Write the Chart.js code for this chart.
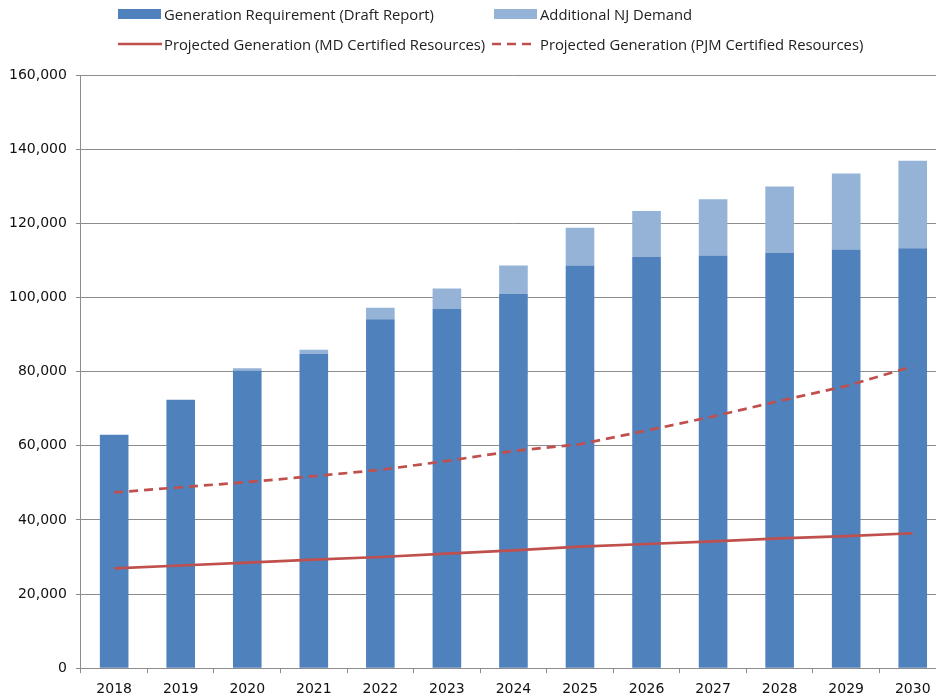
<!DOCTYPE html>
<html>
<head>
<meta charset="utf-8">
<script src="https://cdn.jsdelivr.net/npm/chart.js@4.4.1/dist/chart.umd.min.js"></script>
<style>
  html, body { margin: 0; padding: 0; background: #fff; overflow: hidden; width: 936px; height: 698px; }
  #wrap { position: relative; width: 952px; height: 698px; overflow: hidden; }
  #chart { position: absolute; left: 0; top: 0; }
  #legend { position: absolute; left: 0; top: 0; width: 936px; height: 60px;
    font-family: "Open Sans", sans-serif; font-size: 14.8px; color: #222; }
  .item { position: absolute; display: flex; align-items: center; white-space: nowrap; height: 20px; }
  .swatch { width: 43px; height: 10px; margin-right: 3px; }
</style>
</head>
<body>
<div id="wrap">
  <canvas id="chart" width="952" height="706"></canvas>
  <div id="legend"></div>
</div>
<script>
const years = ["2018", "2019", "2020", "2021", "2022", "2023", "2024", "2025", "2026", "2027", "2028", "2029", "2030"];
const generationRequirement = [63000, 72400, 80300, 84800, 94100, 96900, 100900, 108600, 110900, 111300, 112000, 112900, 113300];
const additionalNJ = [0, 0, 600, 1100, 3100, 5500, 7700, 10200, 12400, 15200, 17900, 20500, 23600];
const mdCertified = [26900, 27700, 28500, 29300, 30000, 30900, 31800, 32800, 33500, 34200, 35000, 35600, 36400];
const pjmCertified = [47400, 48800, 50200, 51800, 53500, 55900, 58600, 60400, 64100, 67900, 72100, 76100, 81400];
const yTicks = [0, 20000, 40000, 60000, 80000, 100000, 120000, 140000, 160000];

const DARK_BLUE = "#4F81BD";
const LIGHT_BLUE = "#95B3D7";
const RED = "#C0504D";
const GRID = "#8c8c8c";

const tickFont = { family: "DejaVu Sans", size: 14 };

const chartId = "chart";
const ctx = document.getElementById(chartId).getContext("2d");

const chart = new Chart(ctx, {
  type: "bar",
  data: {
    labels: years,
    datasets: [
      {
        label: "Generation Requirement (Draft Report)",
        data: generationRequirement,
        backgroundColor: DARK_BLUE,
        stack: "bars",
        order: 1,
      },
      {
        label: "Additional NJ Demand",
        data: additionalNJ,
        backgroundColor: LIGHT_BLUE,
        stack: "bars",
        order: 1,
      },
      {
        type: "line",
        label: "Projected Generation (MD Certified Resources)",
        data: mdCertified,
        borderColor: RED,
        borderWidth: 2.7,
        pointRadius: 0,
        tension: 0,
        stack: "md",
        order: 0,
      },
      {
        type: "line",
        label: "Projected Generation (PJM Certified Resources)",
        data: pjmCertified,
        borderColor: RED,
        borderWidth: 2.7,
        borderDash: [9, 6],
        pointRadius: 0,
        tension: 0,
        stack: "pjm",
        order: 0,
      },
    ],
  },
  options: {
    responsive: false,
    animation: false,
    barPercentage: 0.43,
    categoryPercentage: 1,
    layout: { padding: { top: 75, left: 0, right: 6, bottom: 0 } },
    plugins: {
      legend: { display: false },
      tooltip: { enabled: false },
    },
    scales: {
      x: {
        stacked: true,
        grid: { display: true, drawOnChartArea: false, offset: true, tickLength: 5, color: GRID },
        border: { color: GRID },
        ticks: { color: "#111", font: tickFont, padding: 8, maxRotation: 0 },
      },
      y: {
        stacked: true,
        min: 0,
        max: 160000,
        afterBuildTicks: (axis) => {
          axis.ticks = yTicks.map((v) => ({ value: v }));
        },
        grid: { color: GRID, tickLength: 5 },
        border: { color: GRID },
        ticks: {
          color: "#111",
          font: tickFont,
          padding: 9,
          callback: (v) => v.toLocaleString("en-US"),
        },
      },
    },
  },
});

// legend built from the datasets
const legendEl = document.getElementById("legend");
const legendSlots = [
  { left: 118, top: 4 },
  { left: 494, top: 4 },
  { left: 118, top: 34 },
  { left: 488, top: 34 },
];
chart.data.datasets.forEach((ds, i) => {
  const item = document.createElement("div");
  item.className = "item";
  item.style.left = `${legendSlots[i].left}px`;
  item.style.top = `${legendSlots[i].top}px`;
  let swatch;
  if (ds.type === "line") {
    const dash = ds.borderDash ? ds.borderDash.join(",") : "none";
    swatch = document.createElement("span");
    swatch.innerHTML = `<svg width="44" height="10" style="display:block"><line x1="0" y1="5" x2="44" y2="5" stroke="${ds.borderColor}" stroke-width="2.5" stroke-dasharray="${dash}" stroke-dashoffset="-4"/></svg>`;
    swatch.style.marginRight = ds.borderDash ? "8px" : "2px";
  } else {
    swatch = document.createElement("span");
    swatch.className = "swatch";
    swatch.style.background = ds.backgroundColor;
  }
  const text = document.createElement("span");
  text.textContent = ds.label;
  item.appendChild(swatch);
  item.appendChild(text);
  legendEl.appendChild(item);
});
</script>
</body>
</html>
